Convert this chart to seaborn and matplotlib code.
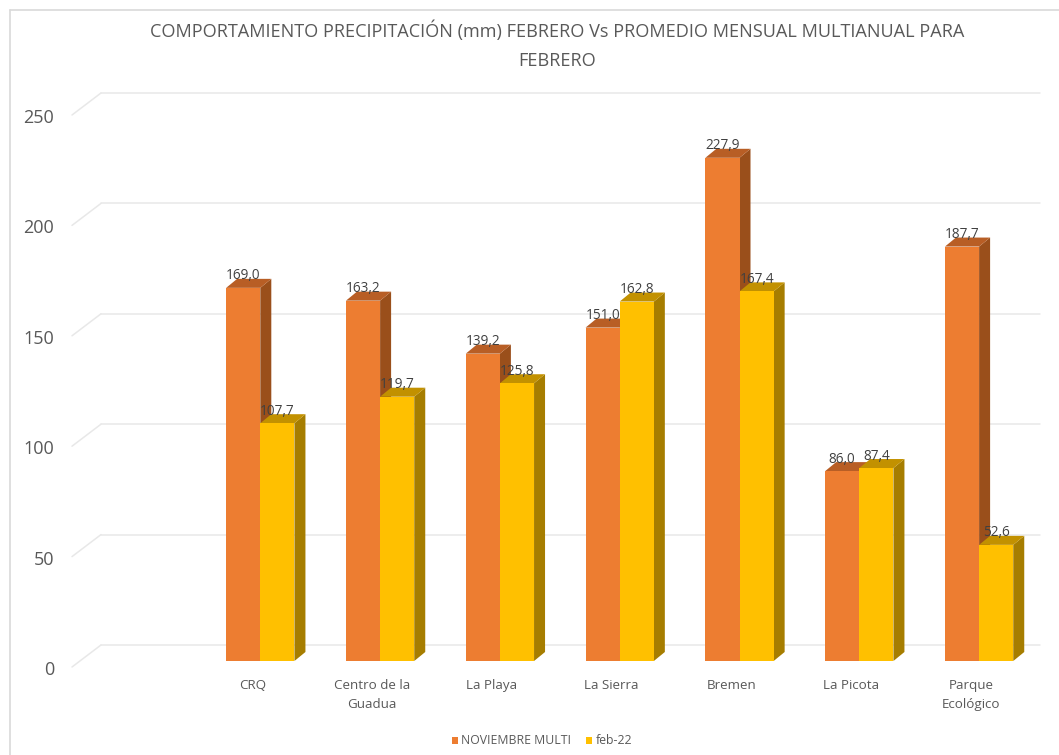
import matplotlib
matplotlib.use("Agg")
import matplotlib.pyplot as plt
from matplotlib.lines import Line2D
from matplotlib.patches import Polygon
from matplotlib.transforms import ScaledTranslation, offset_copy
import pandas as pd
import seaborn as sns

categories = ["CRQ", "Centro de la\nGuadua", "La Playa", "La Sierra", "Bremen", "La Picota", "Parque\nEcológico"]
multi_label = "NOVIEMBRE MULTI"
feb_label = "feb-22"
multi_values = [169.0, 163.2, 139.2, 151.0, 227.9, 86.0, 187.7]
feb_values = [107.7, 119.7, 125.8, 162.8, 167.4, 87.4, 52.6]
y_ticks = [0, 50, 100, 150, 200, 250]
title = "COMPORTAMIENTO PRECIPITACIÓN (mm) FEBRERO Vs PROMEDIO MENSUAL MULTIANUAL PARA\nFEBRERO"

W, H, DPI = 1059, 755, 100
sns.set_theme(style="white")
plt.rcParams["font.family"] = ["Open Sans", "DejaVu Sans"]

fig = plt.figure(figsize=(W / DPI, H / DPI), dpi=DPI, facecolor="white")
L, R, B, T = 72, 1040, 661, 109
ax = fig.add_axes([L / W, (H - B) / H, (R - L) / W, (B - T) / H])
ax.patch.set_alpha(0)

df = pd.DataFrame({
    "estacion": categories * 2,
    "valor": multi_values + feb_values,
    "serie": [multi_label] * len(categories) + [feb_label] * len(categories),
})
front = {multi_label: "#ED7D31", feb_label: "#FFC000"}
top_c = {multi_label: "#B85E25", feb_label: "#C29100"}
side_c = {multi_label: "#9A4F1B", feb_label: "#A67D00"}

sns.barplot(data=df, x="estacion", y="valor", hue="serie", order=categories,
            hue_order=[multi_label, feb_label], palette=front, saturation=1,
            width=0.57, gap=0, linewidth=0, ax=ax, errorbar=None, zorder=3)

center_px, step_px = 260.3, 119.8
ax.set_xlim((L - center_px) / step_px, (R - center_px) / step_px)
ax.set_ylim(0, 250)
sns.despine(ax=ax, left=True, bottom=True)
ax.set_xlabel("")
ax.set_ylabel("")

# Floor and back-wall grid (drawn with pixel offsets from the data scale)
back = offset_copy(ax.transData, fig=fig, x=29, y=16, units="dots")
frontg = offset_copy(ax.transData, fig=fig, x=0, y=-6, units="dots")
xl, xr = ax.get_xlim()
px_per_x = step_px
grid_c = "#E8E8E8"
for v in y_ticks:
    ax.plot([xl, xr - 29 / px_per_x], [v, v], transform=back, color=grid_c, lw=1.1,
            zorder=1, clip_on=False)
    p0 = frontg.transform((xl, v))
    p1 = back.transform((xl, v))
    ax.add_line(Line2D([p0[0], p1[0]], [p0[1], p1[1]], transform=None,
                       color=grid_c, lw=1.1, zorder=1, clip_on=False))

# 3D faces derived from the bars drawn by seaborn
dx = 11 / px_per_x
dy = 9 / ((B - T) / 250)
series = [multi_label, feb_label]
for s_i, (container, name) in enumerate(zip(ax.containers, series)):
    for bar in container:
        x0, w, h = bar.get_x(), bar.get_width(), bar.get_height()
        x1 = x0 + w
        z = 3 + s_i
        bar.set_zorder(z + 0.2)
        ax.add_patch(Polygon([(x1, 0), (x1 + dx, dy), (x1 + dx, h + dy), (x1, h)],
                             closed=True, fc=side_c[name], ec="none", zorder=z, clip_on=False))
        ax.add_patch(Polygon([(x0, h), (x0 + dx, h + dy), (x1 + dx, h + dy), (x1, h)],
                             closed=True, fc=top_c[name], ec="none", zorder=z + 0.1, clip_on=False))
        ax.annotate(f"{h:.1f}".replace(".", ","), (x0 + w / 2, h), xytext=(0, 12),
                    textcoords="offset pixels", ha="center", va="center",
                    fontsize=9.8, color="#404040", zorder=8, annotation_clip=False)

# Ticks
ax.set_yticks(y_ticks)
ax.set_xticks(range(len(categories)))
ax.set_xticklabels(categories, fontsize=9.6, color="#595959", linespacing=1.6)
ax.tick_params(axis="both", length=0)
ax.tick_params(axis="y", labelsize=13, labelcolor="#595959", pad=12.7)
ax.tick_params(axis="x", pad=13)
ytrans = ScaledTranslation(0, -7 / DPI, fig.dpi_scale_trans)
for lab in ax.get_yticklabels():
    lab.set_transform(lab.get_transform() + ytrans)
xtrans = ScaledTranslation(-8 / DPI, 0, fig.dpi_scale_trans)
for lab in ax.get_xticklabels():
    lab.set_transform(lab.get_transform() + xtrans)
    lab.set_va("top")

# Legend
handles, labels = ax.get_legend_handles_labels()
ax.legend(handles[:2], labels[:2], ncol=2, frameon=False, fontsize=8.8,
          loc="center", bbox_to_anchor=(542 / W, (H - 741) / H),
          bbox_transform=fig.transFigure, handlelength=0.5, handleheight=0.5,
          handletextpad=0.3, columnspacing=1.2, labelcolor="#595959")

fig.suptitle(title, x=557 / W, y=1 - 21 / H, va="top", fontsize=13.05,
             color="#595959", linespacing=1.75)

# Chart frame
fig.add_artist(Line2D([9.5 / W, 9.5 / W], [0, 1 - 10 / H], transform=fig.transFigure,
                      color="#D9D9D9", lw=1.2))
fig.add_artist(Line2D([9.5 / W, 1], [1 - 10 / H, 1 - 10 / H], transform=fig.transFigure,
                      color="#D9D9D9", lw=1.2))

fig.savefig("out.png", dpi=DPI, facecolor="white")
